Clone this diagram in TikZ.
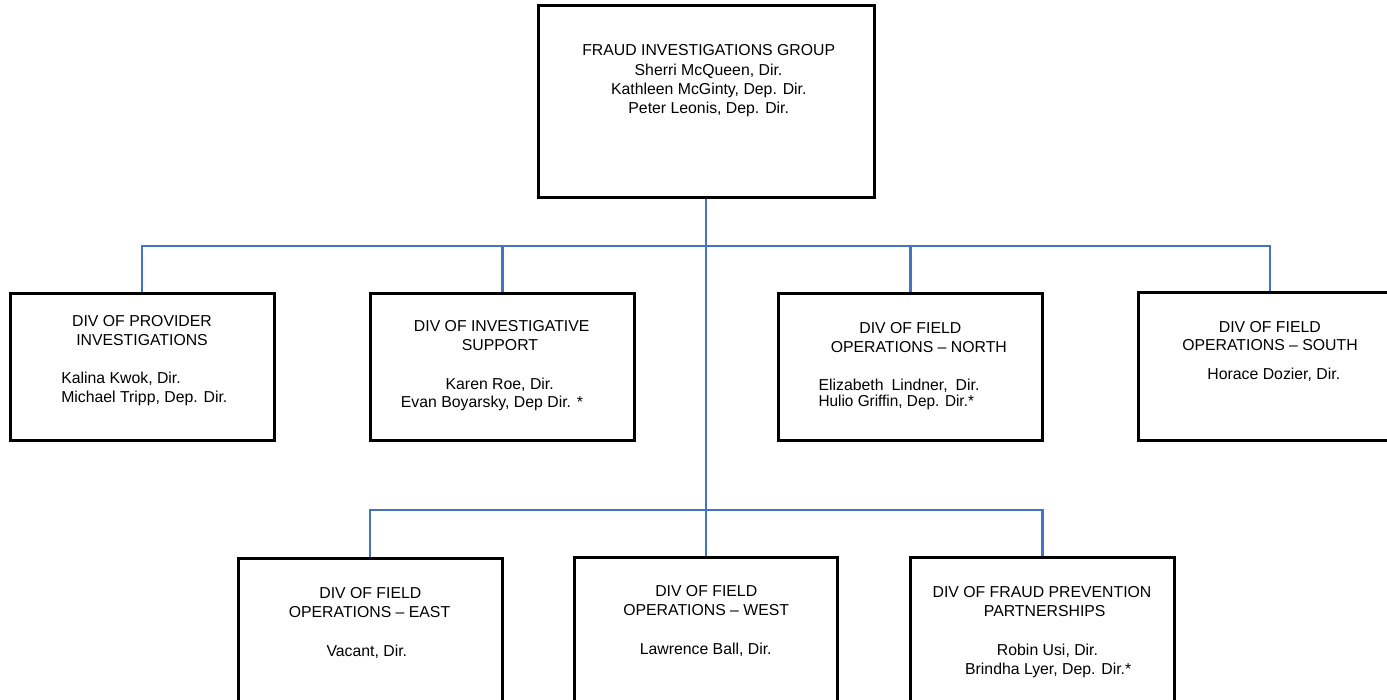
\documentclass[tikz,border=0pt]{standalone}
\usepackage{fontspec}
\setmainfont{Liberation Sans}
\usepackage{graphicx}
\definecolor{orgblue}{RGB}{68,114,196}
\begin{document}
\begin{tikzpicture}[x=0.75pt,y=-0.75pt,
  box/.style={draw=black,line width=2.25pt,rectangle,inner sep=0pt,fill=none},
  conn/.style={draw=orgblue,line width=2pt},
  txt/.style={inner sep=0pt,anchor=base,font=\fontsize{11.86}{14.4}\selectfont},
  txtl/.style={txt,anchor=base west}]
\useasboundingbox (0,0) rectangle (1387,699);

% boxes
\node[box,minimum width=336*0.75pt,minimum height=192.6*0.75pt] (top) at (706,101.5) {};
\node[box,minimum width=264*0.75pt,minimum height=146.5*0.75pt] (b1) at (142,366.75) {};
\node[box,minimum width=263.5*0.75pt,minimum height=146.5*0.75pt] (b2) at (502.25,366.75) {};
\node[box,minimum width=264.5*0.75pt,minimum height=146.5*0.75pt] (b3) at (910.25,366.75) {};
\node[box,minimum width=262.2*0.75pt,minimum height=147.2*0.75pt] (b4) at (1269.9,366.4) {};
\node[box,minimum width=264*0.75pt,minimum height=161.7*0.75pt] (b5) at (370,639.15) {};
\node[box,minimum width=263.5*0.75pt,minimum height=162.8*0.75pt] (b6) at (705.75,638.6) {};
\node[box,minimum width=263.5*0.75pt,minimum height=163*0.75pt] (b7) at (1042.25,638.5) {};

% connectors
\coordinate (bus1) at (706,246);
\coordinate (bus2) at (706,510);
\draw[conn] (top.south) -- (top.south |- b6.north);
\draw[conn] (b1.north) |- (b4.north |- bus1) -- (b4.north);
\draw[conn] (b2.north) -- (b2.north |- bus1);
\draw[conn] (b3.north) -- (b3.north |- bus1);
\draw[conn] (b5.north) |- (b7.north |- bus2) -- (b7.north);

% texts: top
\node[txt] (t1) at (708.7,55.7) {FRAUD INVESTIGATIONS GROUP};
\node[txt] (t2) at (708.5,75) {Sherri McQueen, Dir.};
\node[txt] (t3) at (708.8,94.3) {Kathleen McGinty, Dep. Dir.};
\node[txt] (t4) at (708.7,113.5) {Peter Leonis, Dep. Dir.};

% b1
\node[txt] (a1) at (142,326) {DIV OF PROVIDER};
\node[txt] (a2) at (142,345.3) {INVESTIGATIONS};
\node[txtl] (a3) at (61,383.3) {Kalina Kwok, Dir.};
\node[txtl] (a4) at (61,402.7) {Michael Tripp, Dep. Dir.};

% b2
\node[txt] (c1) at (501.7,331.7) {DIV OF INVESTIGATIVE};
\node[txt] (c2) at (500,350.5) {SUPPORT};
\node[txt] (c3) at (499.7,389) {Karen Roe, Dir.};
\node[txt] (c4) at (492,407.7) {Evan Boyarsky, Dep Dir. *};

% b3
\node[txt] (d1) at (910.3,333.3) {DIV OF FIELD};
\node[txt] (d2) at (918.8,352.3) {OPERATIONS -- NORTH};
\node[txtl] (d3) at (818.3,390) {Elizabeth\hspace{0.5em}Lindner,\hspace{0.5em}Dir.};
\node[txtl] (d4) at (818.3,406.7) {\scalebox{0.97}[1]{Hulio Griffin, Dep. Dir.*}};

% b4
\node[txt] (e1) at (1269.8,332) {DIV OF FIELD};
\node[txt] (e2) at (1270,350.7) {OPERATIONS -- SOUTH};
\node[txt] (e3) at (1273.8,379) {Horace Dozier, Dir.};

% b5
\node[txt] (f1) at (370.3,598.3) {DIV OF FIELD};
\node[txt] (f2) at (369.5,617.3) {OPERATIONS -- EAST};
\node[txt] (f3) at (366.8,656.7) {Vacant, Dir.};

% b6
\node[txt] (g1) at (706.2,596.7) {DIV OF FIELD};
\node[txt] (g2) at (706.2,615.7) {OPERATIONS -- WEST};
\node[txt] (g3) at (705.7,654.3) {Lawrence Ball, Dir.};

% b7
\node[txt] (h1) at (1042,597.3) {DIV OF FRAUD PREVENTION};
\node[txt] (h2) at (1044.7,616) {PARTNERSHIPS};
\node[txt] (h3) at (1047.5,655) {Robin Usi, Dir.};
\node[txt] (h4) at (1048.2,674.3) {Brindha Lyer, Dep. Dir.*};
\end{tikzpicture}
\end{document}
